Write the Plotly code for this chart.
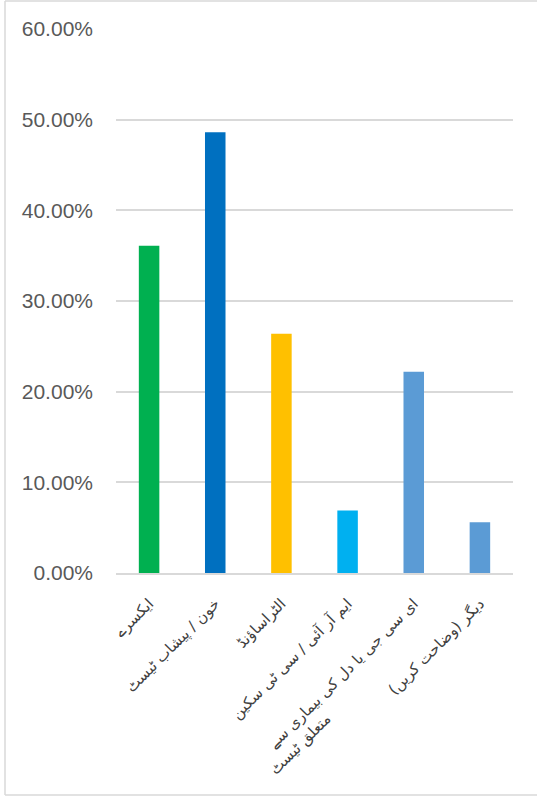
import plotly.graph_objects as go

NBSP = "\u00a0"
categories = [
    "ایکسرے",
    "خون / پیشاب ٹیسٹ",
    "الٹراساؤنڈ",
    "ایم آر آئی / سی ٹی سکین",
    "ای سی جی یا دل کی بیماری سے<br>متعلق ٹیسٹ" + NBSP * 30,
    "دیگر (وضاحت کریں)",
]
values = [0.361, 0.486, 0.264, 0.069, 0.222, 0.056]
colors = ["#00B050", "#0070C0", "#FFC000", "#00B0F0", "#5B9BD5", "#5B9BD5"]
tick_vals = [0, 0.1, 0.2, 0.3, 0.4, 0.5, 0.6]
tick_text = ["0.00%", "10.00%", "20.00%", "30.00%", "40.00%", "50.00%", "60.00%"]

fig = go.Figure(go.Bar(x=categories, y=values, marker=dict(color=colors, line=dict(width=0)),
                       hoverinfo="skip"))

L, R, T, B = 116, 24, 29, 223
W, H = 537, 796
pw, ph = W - L - R, H - T - B

def px_x(p):
    return (p - L) / pw

def px_y(p):
    return (H - B - p) / ph

border = dict(color="#D9D9D9", width=1.5)
fig.add_shape(type="line", xref="paper", yref="paper", x0=px_x(5), x1=px_x(5), y0=px_y(1), y1=px_y(795), line=border)
fig.add_shape(type="line", xref="paper", yref="paper", x0=px_x(5), x1=px_x(540), y0=px_y(1), y1=px_y(1), line=border)
fig.add_shape(type="line", xref="paper", yref="paper", x0=px_x(5), x1=px_x(540), y0=px_y(795), y1=px_y(795), line=border)

fig.update_layout(
    width=W, height=H,
    margin=dict(l=L, r=R, t=T, b=B, autoexpand=False),
    paper_bgcolor="white", plot_bgcolor="white",
    bargap=0.69,
    showlegend=False,
    font=dict(family="Liberation Sans, DejaVu Sans", color="#595959"),
    xaxis=dict(
        tickangle=-45, tickfont=dict(size=15, family="DejaVu Sans", color="#404040"),
        showline=True, linecolor="#D9D9D9", linewidth=2, showgrid=False,
        ticks="", ticklabelstandoff=14,
    ),
    yaxis=dict(
        range=[0, 0.6], tickvals=tick_vals, ticktext=tick_text,
        tickfont=dict(size=21, color="#595959"),
        showgrid=True, gridcolor="#D9D9D9", gridwidth=1.5,
        zeroline=False, showline=False, ticks="", ticklabelstandoff=22,
    ),
)

fig.write_html(
    "out.html",
    config={"displayModeBar": False},
    post_script="document.body.style.margin='0';document.body.style.overflow='hidden';",
)
